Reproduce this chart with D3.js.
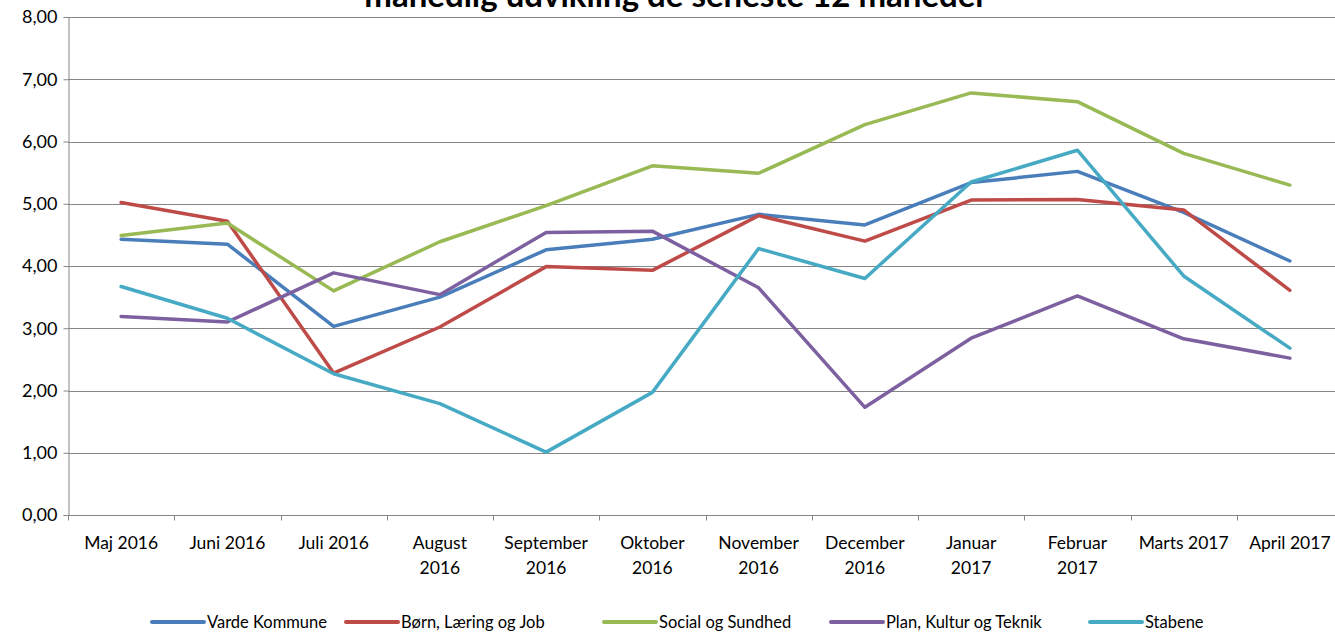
<!DOCTYPE html>
<html>
<head>
<meta charset="utf-8">
<script src="https://cdn.jsdelivr.net/npm/d3@7"></script>
<style>
  body { margin: 0; background: #fff; }
  text { font-family: Lato, "Open Sans", sans-serif; fill: #000; }
</style>
</head>
<body>
<svg id="chart" width="1335" height="633"></svg>
<script>
// data
var maaneder = ["Maj 2016", "Juni 2016", "Juli 2016", "August\n2016", "September\n2016", "Oktober\n2016",
    "November\n2016", "December\n2016", "Januar\n2017", "Februar\n2017", "Marts 2017", "April 2017"];
var serieNavne = ["Varde Kommune", "Børn, Læring og Job", "Social og Sundhed", "Plan, Kultur og Teknik", "Stabene"];
var vardeKommune = [4.43, 4.35, 3.03, 3.50, 4.26, 4.43, 4.83, 4.66, 5.34, 5.52, 4.86, 4.08];
var boernLaering = [5.02, 4.72, 2.28, 3.02, 3.99, 3.93, 4.81, 4.40, 5.06, 5.07, 4.90, 3.61];
var socialSundhed = [4.49, 4.69, 3.60, 4.39, 4.97, 5.61, 5.49, 6.27, 6.78, 6.64, 5.81, 5.30];
var planKultur = [3.19, 3.10, 3.89, 3.54, 4.54, 4.56, 3.65, 1.73, 2.84, 3.52, 2.83, 2.52];
var stabene = [3.67, 3.16, 2.27, 1.79, 1.01, 1.97, 4.28, 3.80, 5.35, 5.86, 3.84, 2.68];
var yTicks = [0, 1, 2, 3, 4, 5, 6, 7, 8];
var farver = ["#4a7ebb", "#be4b48", "#98b954", "#7d60a0", "#46aac5"];

var serier = [vardeKommune, boernLaering, socialSundhed, planKultur, stabene];

var svg = d3.select("#chart");
var mLeft = 68, mRight = 1343, mTop = 17, mBottom = 515;

var x = d3.scaleBand().domain(maaneder).range([mLeft, mRight]);
var y = d3.scaleLinear().domain([0, 8]).range([mBottom, mTop]);
var fmt = function(v) { return d3.format(".2f")(v).replace(".", ","); };

// titel (beskaaret i toppen)
svg.append("text")
    .attr("x", 676)
    .attr("y", 7)
    .attr("text-anchor", "middle")
    .style("font-size", "33px")
    .style("font-weight", "bold")
    .text("månedlig udvikling de seneste 12 måneder");

// gitterlinjer
svg.append("g")
    .selectAll("line")
    .data(yTicks.filter(function(d) { return d > 0; }))
    .enter().append("line")
    .attr("x1", mLeft).attr("x2", mRight)
    .attr("y1", function(d) { return Math.round(y(d)) + 0.5; })
    .attr("y2", function(d) { return Math.round(y(d)) + 0.5; })
    .attr("stroke", "#868686")
    .attr("stroke-width", 1);

// y-akse
var yAxis = svg.append("g")
    .attr("transform", "translate(" + (mLeft + 0.5) + ",0)")
    .call(d3.axisLeft(y).tickValues(yTicks).tickFormat(fmt).tickSize(5).tickPadding(6));
yAxis.select(".domain").attr("stroke", "#868686");
yAxis.selectAll(".tick line").attr("stroke", "#868686");
yAxis.selectAll(".tick text").style("font-size", "18px").attr("fill", "#000");

// x-akse
var xAxis = svg.append("g")
    .attr("transform", "translate(0," + (Math.round(mBottom) + 0.5) + ")");
xAxis.append("line")
    .attr("x1", mLeft).attr("x2", mRight)
    .attr("stroke", "#868686");
xAxis.selectAll(".tk")
    .data(maaneder)
    .enter().append("line")
    .attr("class", "tk")
    .attr("x1", function(d) { return Math.round(x(d)) + 0.5; })
    .attr("x2", function(d) { return Math.round(x(d)) + 0.5; })
    .attr("y1", 0).attr("y2", 5)
    .attr("stroke", "#868686");
var lbl = xAxis.selectAll(".lbl")
    .data(maaneder)
    .enter().append("text")
    .attr("class", "lbl")
    .attr("text-anchor", "middle")
    .style("font-size", "17.5px")
    .attr("transform", function(d) { return "translate(" + (x(d) + x.bandwidth() / 2) + ",0)"; });
lbl.selectAll("tspan")
    .data(function(d) { return d.split("\n"); })
    .enter().append("tspan")
    .attr("x", 0)
    .attr("y", function(d, i) { return 33 + i * 25; })
    .text(function(d) { return d; });

// linjer
var line = d3.line()
    .x(function(d, i) { return x(maaneder[i]) + x.bandwidth() / 2; })
    .y(function(d) { return y(d); });

svg.append("g")
    .selectAll("path")
    .data(serier)
    .enter().append("path")
    .attr("d", line)
    .attr("fill", "none")
    .attr("stroke", function(d, i) { return farver[i]; })
    .attr("stroke-width", 3.5)
    .attr("stroke-linejoin", "round")
    .attr("stroke-linecap", "round");

// forklaring
var legendX = [152, 346, 604, 831, 1090];
var leg = svg.append("g").selectAll("g")
    .data(serieNavne)
    .enter().append("g")
    .attr("transform", function(d, i) { return "translate(" + legendX[i] + ",622)"; });
leg.append("line")
    .attr("x1", 0).attr("x2", 52)
    .attr("stroke", function(d, i) { return farver[i]; })
    .attr("stroke-width", 4)
    .attr("stroke-linecap", "round");
leg.append("text")
    .attr("x", 55)
    .attr("y", 6)
    .style("font-size", "16.5px")
    .text(function(d) { return d; });
</script>
</body>
</html>
